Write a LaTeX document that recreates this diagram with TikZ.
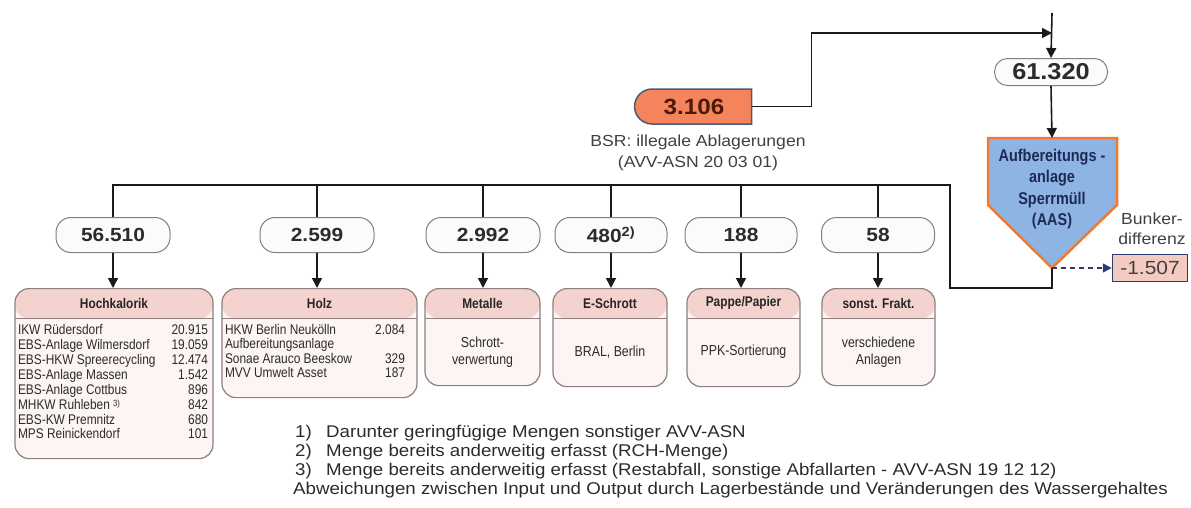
\documentclass[tikz,border=0pt]{standalone}
\usepackage{fontspec}
\setmainfont[FakeStretch=1.1]{Liberation Sans}
\newfontfamily\condf[FakeStretch=0.85]{Liberation Sans}
\usetikzlibrary{arrows.meta,shapes.misc}
\definecolor{linec}{HTML}{1A1A1A}
\definecolor{numborder}{HTML}{808080}
\definecolor{numfill}{HTML}{FBFBFB}
\definecolor{lborder}{HTML}{8E7E7E}
\definecolor{lhead}{HTML}{F4D3CE}
\definecolor{lbody}{HTML}{FDF5F4}
\definecolor{orangef}{HTML}{F5845C}
\definecolor{aasborder}{HTML}{F07A30}
\definecolor{bluef}{HTML}{8EB4E3}
\definecolor{navyb}{HTML}{2E3A6E}
\definecolor{pinkb}{HTML}{F3CBC3}
\definecolor{txt}{HTML}{2B2B2B}
\definecolor{tbrown}{HTML}{4A1A0A}
\definecolor{navtxt}{HTML}{1E2A55}
\definecolor{slate}{HTML}{4A5A7A}
\begin{document}
\begin{tikzpicture}[x=1pt,y=-1pt,
  line/.style={draw=linec, line width=1.6pt},
  arr/.style={line, -{Triangle[length=10pt,width=10pt]}},
  numbox/.style={draw=numborder, fill=numfill, rounded corners=15pt, minimum width=114pt,
    minimum height=35pt, inner sep=0pt, line width=1pt, text=txt,
    font=\fontsize{19}{22}\selectfont\bfseries},
  lbox/.style={draw=lborder, fill=lbody, rounded corners=14pt, inner sep=0pt, anchor=north,
    line width=1.2pt,
    path picture={\fill[lhead] (path picture bounding box.north west) rectangle
      ([yshift=-30pt]path picture bounding box.north east);
      \draw[lborder, line width=1.2pt] ([yshift=-30pt]path picture bounding box.north west) --
      ([yshift=-30pt]path picture bounding box.north east);}},
  hd/.style={font=\condf\bfseries\fontsize{14}{16}\selectfont, text=black!85, inner sep=0pt},
  bd/.style={font=\condf\fontsize{14.5}{17}\selectfont, text=txt, align=center, inner sep=0pt},
  lst/.style={font=\condf\fontsize{14}{14.9}\selectfont, text=txt, inner sep=0pt, anchor=north},
  fn/.style={font=\fontsize{17}{19}\selectfont, text=txt, anchor=base west, inner sep=0pt}
]
\useasboundingbox (0,0) rectangle (1191,507);

% top inflow
\coordinate (ttop) at (1052,13);
\coordinate (jn) at (1052,33);
\node[numbox, minimum width=113pt, minimum height=27pt, rounded corners=13pt,
  font=\fontsize{23}{26}\selectfont\bfseries] (n61) at (1051,72) {61.320};
\draw[arr] (ttop) -- (n61.north);

% 3.106
\node[rounded rectangle, rounded rectangle east arc=none, draw=slate, fill=orangef,
  line width=1.5pt, minimum width=117pt, minimum height=35pt, inner sep=0pt, text=tbrown,
  font=\fontsize{22}{24}\selectfont\bfseries] (n3106) at (694,106.5) {3.106};
\draw[arr] (n3106.east) -- ++(59,0) |- (jn);
\node[font=\fontsize{16}{21}\selectfont, text=black!75, align=center] (lbsr) at (698,153)
  {BSR: illegale Ablagerungen\\(AVV-ASN 20 03 01)};

% AAS
\coordinate (aastop) at (1052,138);
\coordinate (aasbot) at (1052,268);
\draw[draw=aasborder, fill=bluef, line width=2.5pt, line join=miter]
  (988,138) -- (1117,138) -- (1117,205) -- (aasbot) -- (988,205) -- cycle;
\draw[arr] (n61.south) -- (aastop);
\node[font=\condf\bfseries\fontsize{17}{21.5}\selectfont, text=navtxt, align=center] (aas)
  at (1052,189) {Aufbereitungs -\\anlage\\Sperrmüll\\(AAS)};

% Bunkerdifferenz
\node[draw=navyb, fill=pinkb, line width=1.5pt, minimum width=75pt, minimum height=27pt,
  inner sep=0pt, font=\fontsize{19}{22}\selectfont, text=black!75] (neg) at (1150,268) {-1.507};
\node[font=\fontsize{16}{20}\selectfont, text=black!75, align=center] (bunk) at (1152,229)
  {Bunker-\\differenz};
\draw[navyb, line width=1.6pt, dash pattern=on 5pt off 4pt,
  -{Triangle[length=9pt,width=9pt]}] (aasbot) -- (neg.west);

% number boxes
\node[numbox] (b1) at (113,235) {56.510};
\node[numbox] (b2) at (317,235) {2.599};
\node[numbox] (b3) at (483,235) {2.992};
\node[numbox, minimum width=112pt] (b4) at (611,235) {480\textsuperscript{2)}};
\node[numbox, minimum width=112pt] (b5) at (741,235) {188};
\node[numbox, minimum width=113pt] (b6) at (878,235) {58};

% bus
\coordinate (bus) at (0,185);
\draw[line] (aasbot) -- (1052,288) -- (950,288) -- (950,185) -- (b1.north |- bus) -- (b1.north);
\foreach \b in {b2,b3,b4,b5,b6} \draw[line] (\b.north |- bus) -- (\b.north);

% lower boxes
\node[lbox, minimum width=198pt, minimum height=170pt] (L1) at (114,288) {};
\node[lbox, minimum width=195pt, minimum height=109pt] (L2) at (319.5,288) {};
\node[lbox, minimum width=115pt, minimum height=97pt] (L3) at (482.5,288) {};
\node[lbox, minimum width=114pt, minimum height=98pt] (L4) at (610,288) {};
\node[lbox, minimum width=113pt, minimum height=98pt] (L5) at (743.5,288) {};
\node[lbox, minimum width=113pt, minimum height=97pt] (L6) at (878.5,288) {};

\foreach \b/\l in {b1/L1,b2/L2,b3/L3,b4/L4,b5/L5,b6/L6}
  \draw[arr] (\b.south) -- (\b.south |- \l.north);

\node[hd] (h1) at ([yshift=-15pt]L1.north) {Hochkalorik};
\node[hd] (h2) at ([yshift=-15pt]L2.north) {Holz};
\node[hd] (h3) at ([yshift=-15pt]L3.north) {Metalle};
\node[hd] (h4) at ([yshift=-15pt]L4.north) {E-Schrott};
\node[hd] (h5) at ([yshift=-15pt]L5.north) {Pappe/Papier};
\node[hd] (h6) at ([yshift=-15pt]L6.north) {sonst. Frakt.};

\node[lst] (t1) at (113,324) {\begin{tabular*}{190pt}{@{}l@{\extracolsep{\fill}}r@{}}
IKW Rüdersdorf & 20.915\\
EBS-Anlage Wilmersdorf & 19.059\\
EBS-HKW Spreerecycling & 12.474\\
EBS-Anlage Massen & 1.542\\
EBS-Anlage Cottbus & 896\\
MHKW Ruhleben \raisebox{3pt}{\fontsize{9}{9}\selectfont 3)} & 842\\
EBS-KW Premnitz & 680\\
MPS Reinickendorf & 101
\end{tabular*}};
\node[lst, font=\condf\fontsize{14}{14.5}\selectfont] (t2) at (315,324) {\begin{tabular*}{180pt}{@{}l@{\extracolsep{\fill}}r@{}}
HKW Berlin Neukölln & 2.084\\
Aufbereitungsanlage & \\
Sonae Arauco Beeskow & 329\\
MVV Umwelt Asset & 187
\end{tabular*}};
\node[bd] (t3) at (482.5,352) {Schrott-\\verwertung};
\node[bd] (t4) at (610,352) {BRAL, Berlin};
\node[bd] (t5) at (743.5,352) {PPK-Sortierung};
\node[bd] (t6) at (878.5,352) {verschiedene\\Anlagen};

% footnotes
\node[fn] (f1) at (295,437) {\makebox[31pt][l]{1)}Darunter geringfügige Mengen sonstiger AVV-ASN};
\node[fn] (f2) at (295,456) {\makebox[31pt][l]{2)}Menge bereits anderweitig erfasst (RCH-Menge)};
\node[fn] (f3) at (295,475) {\makebox[31pt][l]{3)}Menge bereits anderweitig erfasst (Restabfall, sonstige Abfallarten - AVV-ASN 19 12 12)};
\node[fn] (f4) at (293,494) {Abweichungen zwischen Input und Output durch Lagerbestände und Veränderungen des Wassergehaltes};
\end{tikzpicture}
\end{document}
